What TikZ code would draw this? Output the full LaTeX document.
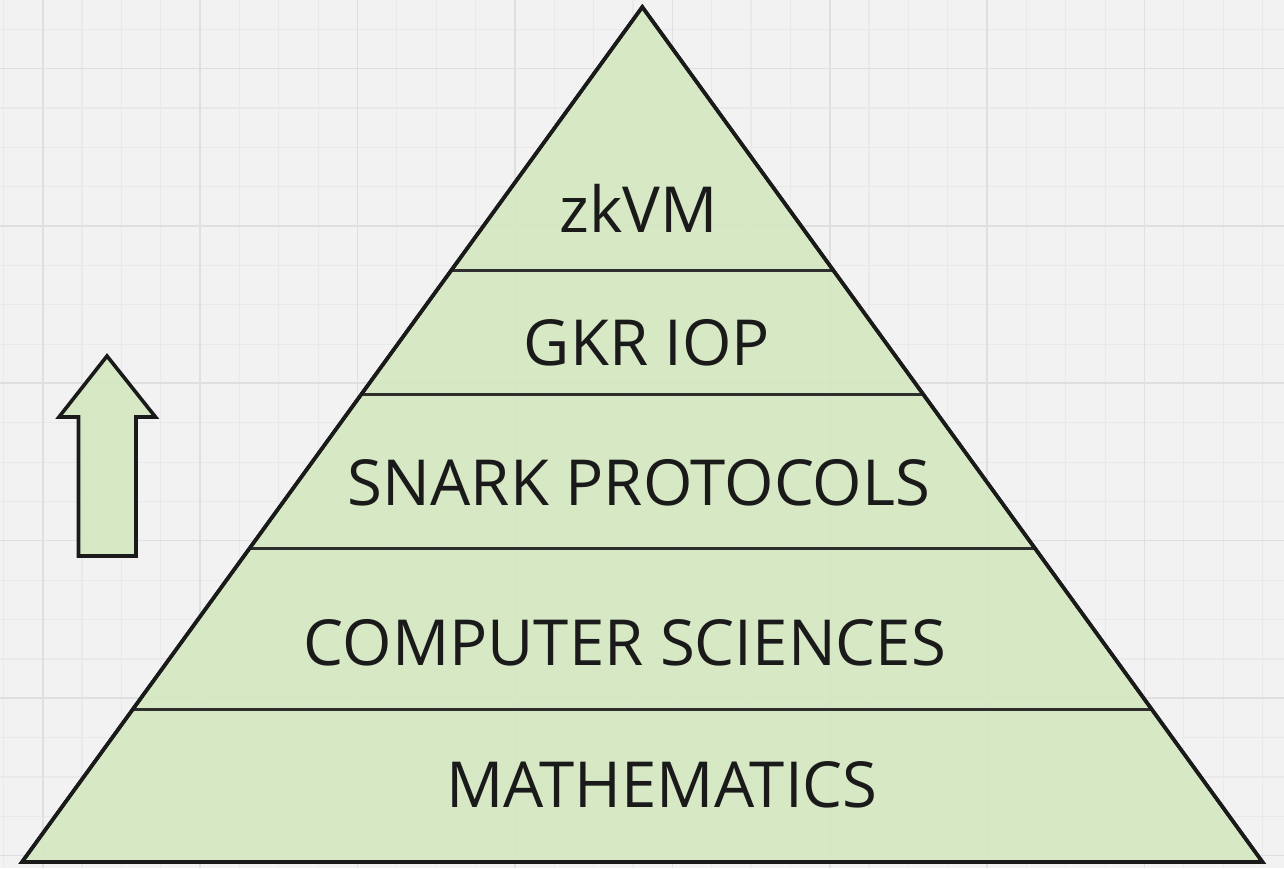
\documentclass[tikz,border=0pt]{standalone}
\usepackage{fontspec}
\setmainfont{Open Sans}
\definecolor{bg}{HTML}{F2F2F2}
\definecolor{gridminor}{HTML}{E9E9E9}
\definecolor{gridmajor}{HTML}{DFDFDF}
\definecolor{layerfill}{RGB}{211,231,192}
\definecolor{outline}{HTML}{1A1A1A}
\definecolor{divider}{HTML}{2E2E2E}
\tikzset{
  layerlabel/.style={anchor=base, font=\fontsize{63.5}{70}\selectfont, text=outline, inner sep=0pt},
  pyrshape/.style={draw=outline, line width=3.6pt, fill=layerfill, fill opacity=0.9, line join=miter},
  dividerline/.style={draw=divider, line width=3pt},
}
\begin{document}
\begin{tikzpicture}[x=1pt,y=-1pt]
\useasboundingbox (0,0) rectangle (1284,868);
\fill[bg] (0,0) rectangle (1284,868);
% minor grid
\foreach \i in {0,...,32} {
  \draw[gridminor, line width=1.2pt] ({3.3+39.35*\i},0) -- ({3.3+39.35*\i},868);
}
\foreach \i in {0,...,22} {
  \draw[gridminor, line width=1.2pt] (0,{-10.05+39.35*\i}) -- (1284,{-10.05+39.35*\i});
}
% major grid
\foreach \i in {0,...,8} {
  \draw[gridmajor, line width=1.6pt] ({42.7+157.4*\i},0) -- ({42.7+157.4*\i},868);
}
\foreach \i in {0,...,5} {
  \draw[gridmajor, line width=1.6pt] (0,{68.3+157.4*\i}) -- (1284,{68.3+157.4*\i});
}
% pyramid
\coordinate (apex) at (642.3,7);
\coordinate (bl) at (22,862);
\coordinate (br) at (1262.5,862);
\draw[pyrshape] (apex) -- (br) -- (bl) -- cycle;
% dividers
\foreach \y/\n in {270/a,394/b,548.5/c,709/d} {
  \coordinate (L\n) at ({642.3-(\y-7)/855*620.3},\y);
  \coordinate (R\n) at ({642.3+(\y-7)/855*620.2},\y);
  \draw[dividerline] (L\n) -- (R\n);
}
\draw[draw=outline, line width=3.6pt, line join=miter] (apex) -- (br) -- (bl) -- cycle;
% labels
\node[layerlabel] (zkvm) at (638.5,232) {zkVM};
\node[layerlabel] (gkr) at (647,365) {GKR IOP};
\node[layerlabel] (snark) at (639,505) {SNARK PROTOCOLS};
\node[layerlabel] (cs) at (625,665) {COMPUTER SCIENCES};
\node[layerlabel] (math) at (662,807) {MATHEMATICS};
% arrow
\draw[pyrshape] (107,356) -- (155.5,417) -- (136,417) -- (136,556) -- (78.5,556) -- (78.5,417) -- (59,417) -- cycle;
\end{tikzpicture}
\end{document}
